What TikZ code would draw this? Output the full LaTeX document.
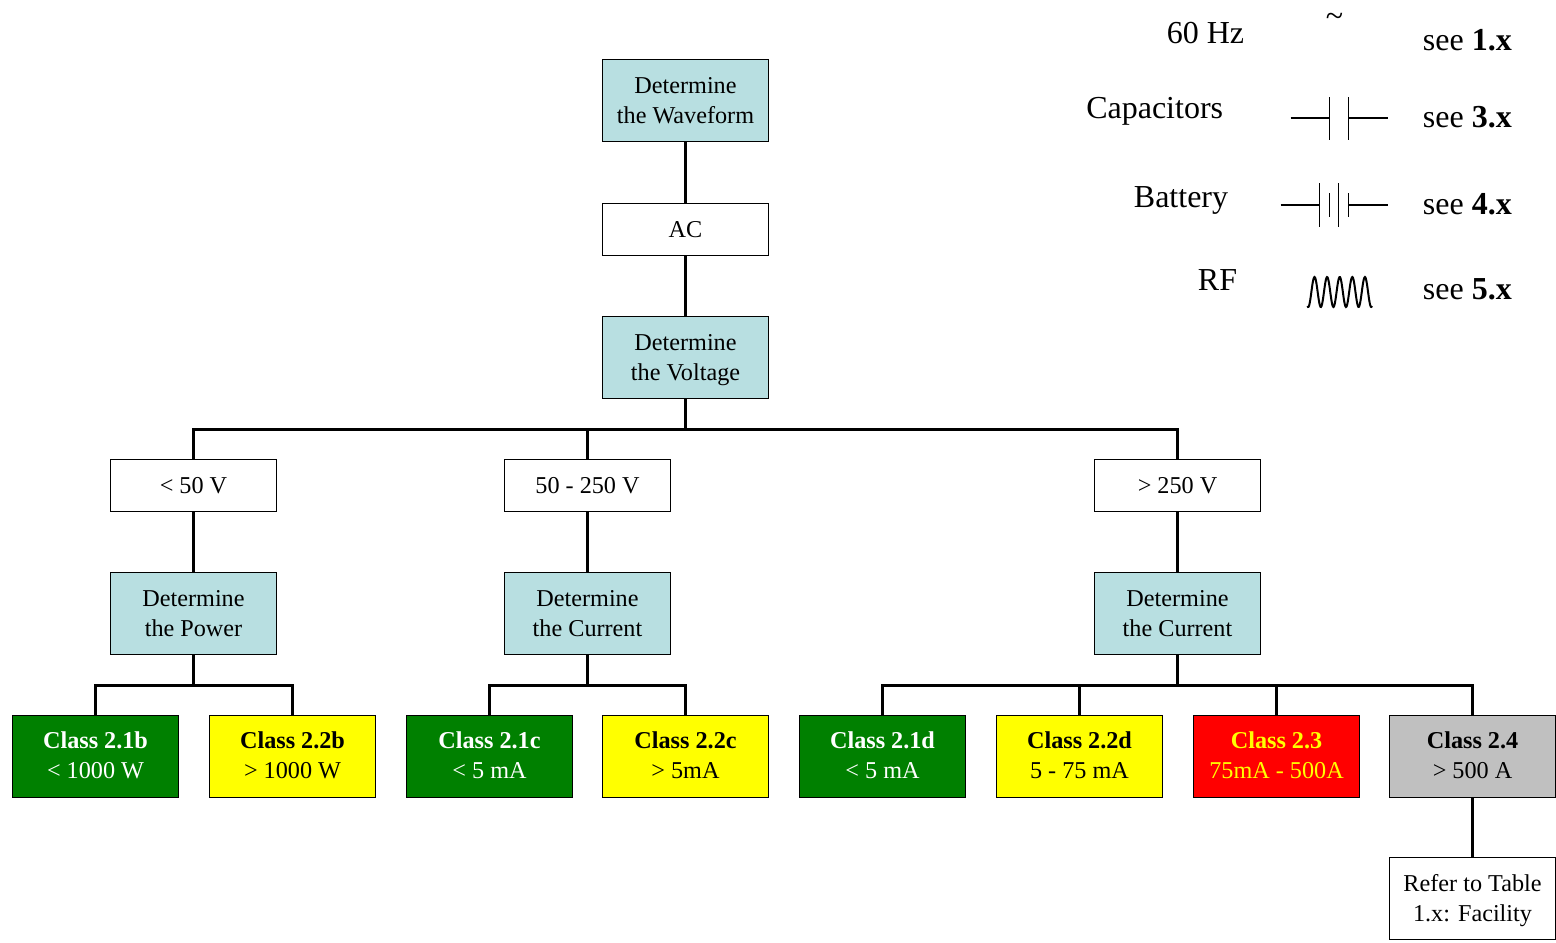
\documentclass[tikz,border=0pt]{standalone}
\usepackage{fontspec}
\setmainfont{Liberation Serif}
\definecolor{question}{HTML}{B8DFE1}
\definecolor{classgreen}{HTML}{008000}
\definecolor{classyellow}{HTML}{FFFF00}
\definecolor{classred}{HTML}{FF0000}
\definecolor{classgray}{HTML}{C0C0C0}
\tikzstyle{box}=[draw=black,line width=0.4pt,rectangle,minimum width=83pt,minimum height=41pt,inner sep=0pt,align=center,text depth=0pt,font=\fontsize{12.1}{15}\selectfont]
\tikzstyle{ask}=[box,fill=question]
\tikzstyle{answer}=[box,fill=white,minimum height=26pt]
\tikzstyle{note}=[box,fill=white]
\tikzstyle{good}=[box,fill=classgreen,text=white,text depth=1pt]
\tikzstyle{warn}=[box,fill=classyellow,text depth=1pt]
\tikzstyle{bad}=[box,fill=classred,text=classyellow,text depth=1pt]
\tikzstyle{off}=[box,fill=classgray,text depth=1pt]
\tikzstyle{edge}=[draw,line width=1.4pt]
\tikzstyle{legend}=[inner sep=0pt,font=\fontsize{16}{19}\selectfont]
\tikzstyle{symbol}=[draw,line width=0.8pt]

\begin{document}
\begin{tikzpicture}[x=0.5pt,y=-0.5pt]
	\useasboundingbox (-0.5,0) rectangle (1555.5,942);

	% First we draw the decision boxes
	\foreach \pos/\name/\kind/\txt in {{(685,100)/wave/ask/Determine\\the Waveform}, {(685,229)/ac/answer/AC},
			{(685,357)/volt/ask/Determine\\the Voltage}, {(193,485)/low/answer/< 50 V},
			{(587,485)/mid/answer/50 - 250 V}, {(1177,485)/high/answer/> 250 V},
			{(193,613)/power/ask/Determine\\the Power}, {(587,613)/curm/ask/Determine\\the Current},
			{(1177,613)/curh/ask/Determine\\the Current}, {(1472,898)/refer/note/Refer to Table\\1.x: Facility}}
		\node[\kind] (\name) at \pos {\txt};

	% Then the class boxes
	\foreach \xpos/\name/\kind/\cls/\txt in {95/a/good/2.1b/< 1000 W, 292/b/warn/2.2b/> 1000 W,
			489/c/good/2.1c/< 5 mA, 685/d/warn/2.2c/> 5mA, 882/e/good/2.1d/< 5 mA,
			1079/f/warn/2.2d/5 - 75 mA, 1276/g/bad/2.3/75mA - 500A, 1472/h/off/2.4/> 500 A}
		\node[\kind] (\name) at (\xpos,756) {\textbf{Class \cls}\\\txt};

	% Connect boxes with edges
	\foreach \source/\dest in {wave/ac, ac/volt, low/power, mid/curm, high/curh, h/refer}
		\path[edge] (\source) -- (\dest);

	\foreach \source/\dest in {volt/low, volt/mid, volt/high, power/a, power/b, curm/c, curm/d,
			curh/e, curh/f, curh/g, curh/h}
		\path[edge] (\source.south) -- ++(0,31) -| (\dest.north);

	% Legend on the top right
	\foreach \xpos/\ypos/\name/\txt in {1244/43/hz/60 Hz, 1223/118/cap/Capacitors, 1228/207/bat/Battery, 1237/290/rf/RF}
		\node[legend,anchor=base east] (\name) at (\xpos,\ypos) {\txt};
	\foreach \ypos/\name/\txt in {50/seea/1, 127/seeb/3, 214/seec/4, 299/seed/5}
		\node[legend,anchor=base west] (\name) at (1422,\ypos) {see \textbf{\txt.x}};
	\node[legend,anchor=base] (tilde) at (1334,26) {\textasciitilde};

	% capacitor
	\draw[symbol] (1290,118) -- (1329,118) (1329,97) -- (1329,140) (1348,97) -- (1348,140) (1348,118) -- (1387,118);
	% battery
	\draw[symbol] (1280,205) -- (1319,205) (1319,183) -- (1319,227) (1329,193) -- (1329,217)
		(1338,183) -- (1338,227) (1348,193) -- (1348,217) (1348,205) -- (1387,205);
	% rf
	\draw[symbol,line width=1pt] plot[domain=-0.56:4.56,samples=120,smooth] ({1314+12.6*\x},{292-15*cos(360*\x)});
\end{tikzpicture}
\end{document}
